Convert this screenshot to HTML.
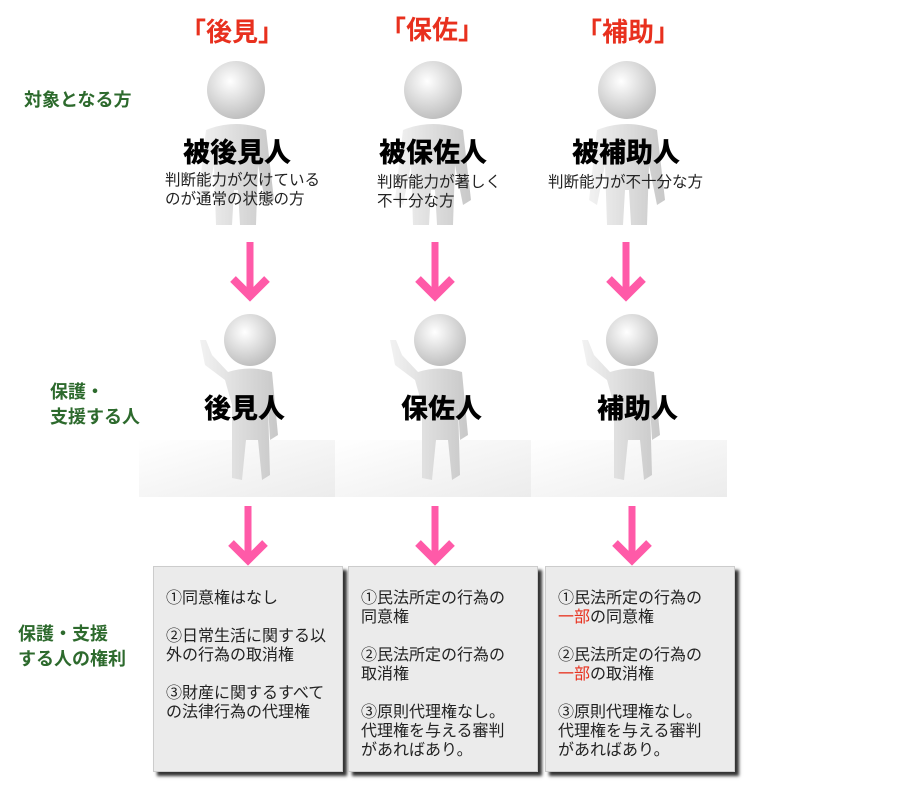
<!DOCTYPE html><html><head><meta charset="utf-8"><style>
body{margin:0;width:900px;height:800px;background:#fff;position:relative;font-family:"Liberation Sans","Noto Sans CJK JP",sans-serif;overflow:hidden}
.a{position:absolute}
.t{color:#e8301e;font-size:26px;font-weight:bold}
.g{color:#2d6a2d;font-size:18px;font-weight:bold;line-height:25px}
.n{font-size:27px;font-weight:900;color:#000}
.s{font-size:15.5px;color:#222;line-height:19px}
.box{position:absolute;top:566px;width:190px;height:206px;background:#ebebeb;border:1px solid #ccc;box-shadow:4px 4px 3px #333;font-size:16px;line-height:19px;color:#222;padding:22px 0 0 12px;box-sizing:border-box}
.box p{margin:0 0 19px}
.r{color:#e8301e}
</style></head><body>
<svg class="a" style="left:0;top:0" width="900" height="800">
<defs><radialGradient id="hg" cx="40%" cy="35%" r="70%"><stop offset="0" stop-color="#fff"/><stop offset="1" stop-color="#bbb"/></radialGradient>
<linearGradient id="bg" x1="0" x2="1"><stop offset="0" stop-color="#f2f2f2"/><stop offset="1" stop-color="#c8c8c8"/></linearGradient>
<linearGradient id="sh" y1="0" y2="1"><stop offset="0" stop-color="#fff"/><stop offset="1" stop-color="#ececec"/></linearGradient>
<g id="top"><circle cx="0" cy="0" r="29" fill="url(#hg)"/><path d="M-30,40 Q0,28 30,40 L38,110 L30,115 L22,75 L20,135 L4,135 L2,100 L-2,100 L-4,135 L-20,135 L-22,75 L-30,115 L-38,110 Z" fill="url(#bg)"/></g>
<g id="mid"><circle cx="0" cy="0" r="26" fill="url(#hg)"/><path d="M-22,32 Q0,25 22,32 L28,95 L20,100 L18,65 L20,135 L12,140 L8,100 L-4,100 L-8,140 L-18,138 L-18,65 L-25,40 L-45,25 L-50,0 L-44,0 L-38,15 Z" fill="url(#bg)"/></g>
<g id="ar"><line x1="0" y1="0" x2="0" y2="52" stroke="#ff5aa8" stroke-width="7"/><polyline points="-17,37 0,54 17,37" fill="none" stroke="#ff5aa8" stroke-width="8"/></g></defs>
<rect x="139" y="440" width="196" height="57" fill="url(#sh)"/><rect x="335" y="440" width="196" height="57" fill="url(#sh)"/><rect x="531" y="440" width="196" height="57" fill="url(#sh)"/>
<use href="#top" x="236" y="90"/><use href="#top" x="433" y="90"/><use href="#top" x="627" y="90"/>
<use href="#mid" x="250" y="340"/><use href="#mid" x="440" y="340"/><use href="#mid" x="632" y="340"/>
<use href="#ar" x="250" y="242"/><use href="#ar" x="435" y="242"/><use href="#ar" x="626" y="242"/>
<use href="#ar" x="248" y="506"/><use href="#ar" x="435" y="506"/><use href="#ar" x="632" y="506"/>
</svg>
<div class="a t" style="left:180px;top:12px">「後見」</div>
<div class="a t" style="left:380px;top:10px">「保佐」</div>
<div class="a t" style="left:576px;top:12px">「補助」</div>
<div class="a g" style="left:24px;top:88px">対象となる方</div>
<div class="a g" style="left:50px;top:380px">保護・<br>支援する人</div>
<div class="a g" style="left:18px;top:622px">保護・支援<br>する人の権利</div>
<div class="a n" style="left:183px;top:131px">被後見人</div>
<div class="a n" style="left:379px;top:131px">被保佐人</div>
<div class="a n" style="left:572px;top:131px">被補助人</div>
<div class="a s" style="left:165px;top:171px">判断能力が欠けている<br>のが通常の状態の方</div>
<div class="a s" style="left:377px;top:173px">判断能力が著しく<br>不十分な方</div>
<div class="a s" style="left:548px;top:173px">判断能力が不十分な方</div>
<div class="a n" style="left:204px;top:387px">後見人</div>
<div class="a n" style="left:401px;top:387px">保佐人</div>
<div class="a n" style="left:597px;top:387px">補助人</div>
<div class="box" style="left:153px"><p>①同意権はなし</p><p>②日常生活に関する以<br>外の行為の取消権</p><p>③財産に関するすべて<br>の法律行為の代理権</p></div>
<div class="box" style="left:348px"><p>①民法所定の行為の<br>同意権</p><p>②民法所定の行為の<br>取消権</p><p>③原則代理権なし。<br>代理権を与える審判<br>があればあり。</p></div>
<div class="box" style="left:545px"><p>①民法所定の行為の<br><span class="r">一部</span>の同意権</p><p>②民法所定の行為の<br><span class="r">一部</span>の取消権</p><p>③原則代理権なし。<br>代理権を与える審判<br>があればあり。</p></div>
</body></html>
